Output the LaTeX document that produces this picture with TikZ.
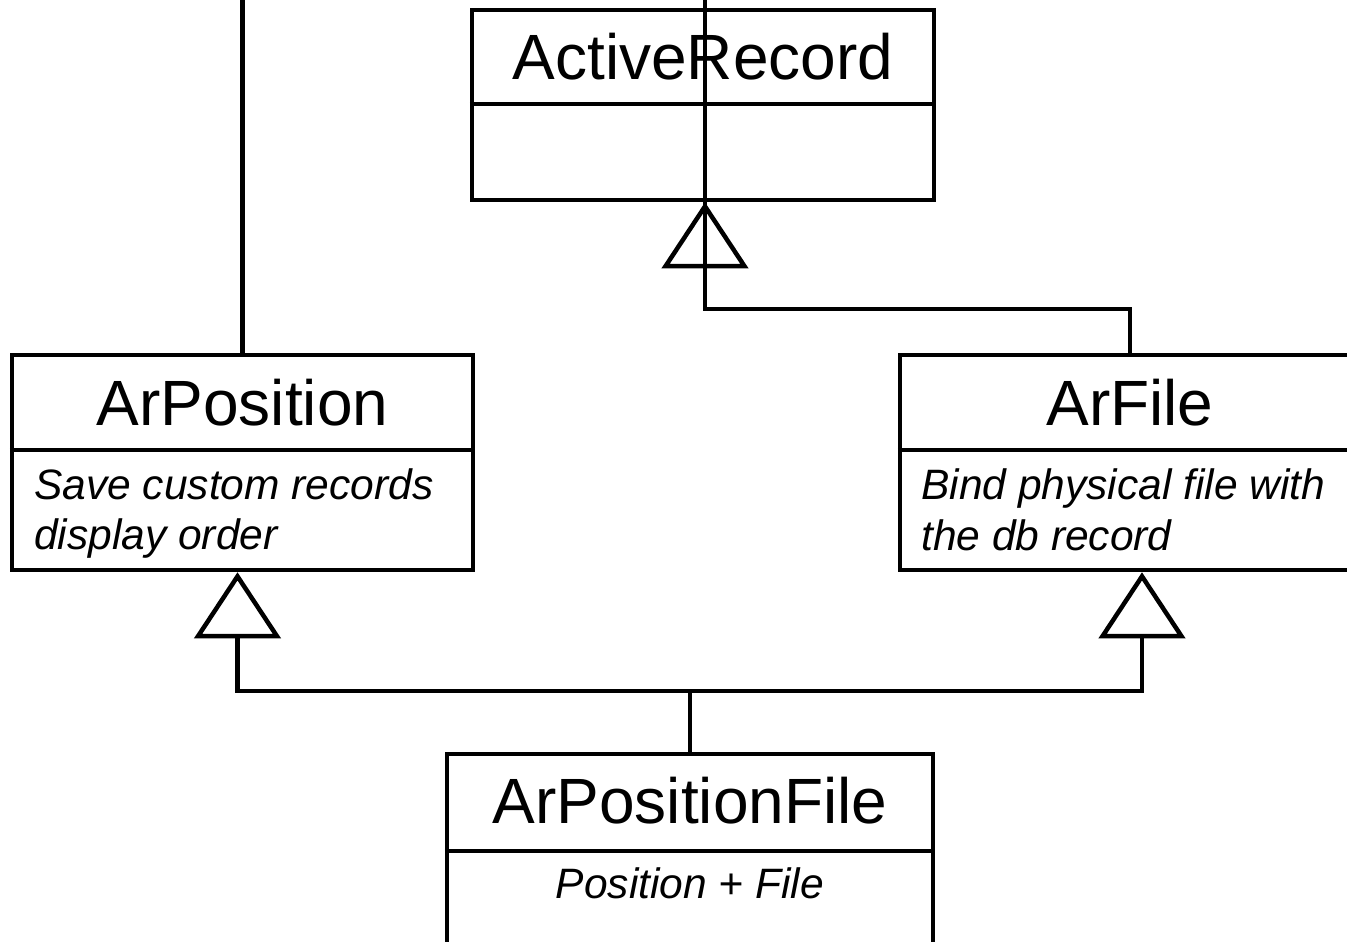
\documentclass[tikz,border=0pt]{standalone}
\usepackage{fontspec}
\setmainfont{Liberation Sans}
\usetikzlibrary{arrows.meta}
\begin{document}
\begin{tikzpicture}[x=1pt,y=-1pt,line width=4.5pt,
  classbox/.style={draw, rectangle, inner sep=0pt, line width=4.5pt},
  title/.style={font=\fontsize{64}{64}\selectfont, anchor=base, inner sep=0pt},
  note/.style={font=\fontsize{42.5}{50}\selectfont\itshape, anchor=base west, inner sep=0pt},
  gen/.style={-{Triangle[open,length=66pt,width=86pt]}}]
\useasboundingbox (0,0) rectangle (1347,942);
\clip (0,0) rectangle (1347,942);

% class boxes
\node[classbox, minimum width=462pt, minimum height=190pt] (AR) at (703,105) {};
\node[classbox, minimum width=461pt, minimum height=215pt] (AP) at (242.5,462.5) {};
\node[classbox, minimum width=460pt, minimum height=215pt] (AF) at (1130,462.5) {};
\node[classbox, minimum width=486pt, minimum height=212pt] (APF) at (690,860) {};

% dividers
\draw (AR.west |- 0,104) -- (AR.east |- 0,104);
\draw (AP.west |- 0,450) -- (AP.east |- 0,450);
\draw (AF.west |- 0,450) -- (AF.east |- 0,450);
\draw (APF.west |- 0,851) -- (APF.east |- 0,851);

% titles
\node[title] (tAR) at (703,80) {ActiveRecord};
\node[title] (tAP) at (242.5,425) {ArPosition};
\node[title] (tAF) at (1130,425) {ArFile};
\node[title] (tAPF) at (690,823) {ArPositionFile};

% notes
\node[note] (nAP1) at (32,499) {Save custom records};
\node[note] (nAP2) at (32,549) {display order};
\node[note] (nAF1) at (919,499) {Bind physical file with};
\node[note] (nAF2) at (919,550) {the db record};
\node[note, anchor=base] (nAPF) at (690,898) {Position + File};

% free ends
\coordinate (topA) at (705,0);
\coordinate (baseA) at (705,268);
\coordinate (topP) at (242.5,0);

% connectors
\draw (topA) -- (baseA);
\draw (AP.north) -- (topP);
\draw[gen] (AF.north) -- ++(0,-44) -| ([xshift=2pt]AR.south);
\draw[gen] (APF.north) -- ++(0,-61) -| ([xshift=-5pt]AP.south);
\draw[gen] (APF.north) -- ++(0,-61) -| ([xshift=12pt]AF.south);
\end{tikzpicture}
\end{document}
